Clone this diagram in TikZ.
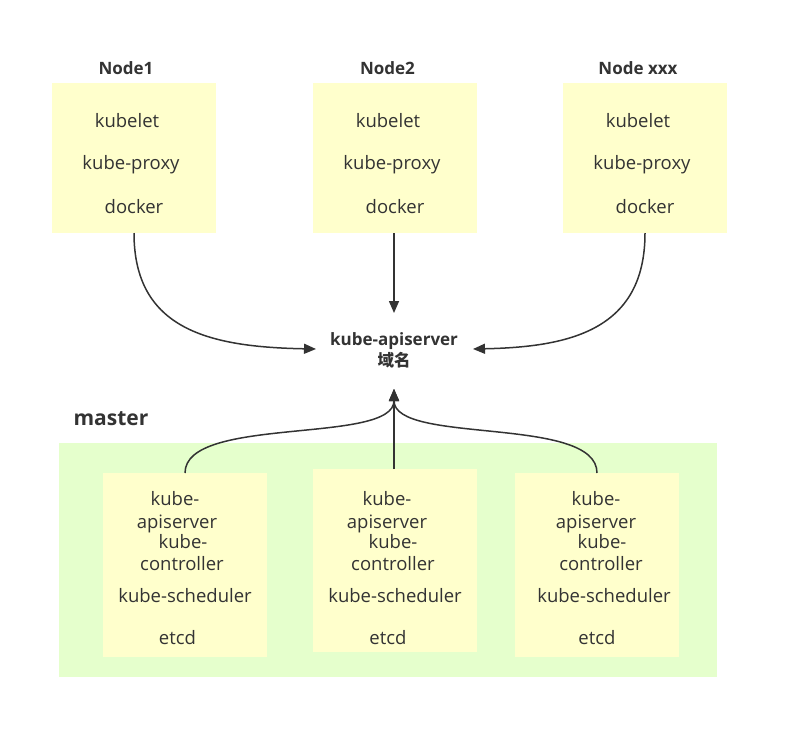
\documentclass[tikz,border=0pt]{standalone}
\usepackage{fontspec}
\setmainfont{Open Sans}
\newfontfamily\cjk{Noto Sans CJK SC}
\usetikzlibrary{arrows.meta}
\definecolor{txt}{HTML}{333333}
\definecolor{ybox}{HTML}{FFFFCC}
\definecolor{gbox}{HTML}{E5FFCC}
\tikzset{
  box/.style={fill=ybox, draw=none},
  lbl/.style={text=txt, font=\fontsize{18.5}{20}\selectfont, inner sep=0pt, anchor=base},
  ttl/.style={text=txt, font=\bfseries\fontsize{17}{19}\selectfont, inner sep=0pt, anchor=base},
  conn/.style={draw=txt, line width=1.5pt, -{Triangle[length=12pt,width=10pt]}}
}
\begin{document}
\begin{tikzpicture}[x=1pt,y=-1pt]
\useasboundingbox (0,0) rectangle (789,740);
% top nodes
\fill[box] (52,83) rectangle (216,233);
\fill[box] (313,83) rectangle (477,233);
\fill[box] (563,83) rectangle (727,233);
\node[ttl] (t1) at (126,74) {Node1};
\node[ttl] (t2) at (387.5,74) {Node2};
\node[ttl] (t3) at (638,74) {Node xxx};
\node[lbl] (a1) at (127,127) {kubelet};
\node[lbl] (a2) at (131,169) {kube-proxy};
\node[lbl] (a3) at (134,213) {docker};
\node[lbl] (b1) at (388,127) {kubelet};
\node[lbl] (b2) at (392,169) {kube-proxy};
\node[lbl] (b3) at (395,213) {docker};
\node[lbl] (c1) at (638,127) {kubelet};
\node[lbl] (c2) at (642,169) {kube-proxy};
\node[lbl] (c3) at (645,213) {docker};
% center
\node[ttl] (api) at (394,345) {kube-apiserver};
\node[ttl, font=\cjk\bfseries\fontsize{16.5}{18}\selectfont] (dom) at (394,366) {域名};
% master
\node[ttl, font=\bfseries\fontsize{21}{24}\selectfont] (mst) at (111,425) {master};
\fill[gbox] (59,443) rectangle (717,677);
\fill[box] (103,473) rectangle (267,657);
\fill[box] (313,469) rectangle (477,652);
\fill[box] (515,473) rectangle (679,657);
\foreach \n/\xa/\xb/\xc/\xd/\xe/\xf in {m1/175/177/183/182/185/177.5, m2/387/387/393/393/395/388, m3/596/596/602/601/604/597}{
  \node[lbl] (\n a) at (\xa,505) {kube-};
  \node[lbl] (\n b) at (\xb,528) {apiserver};
  \node[lbl] (\n c) at (\xc,548) {kube-};
  \node[lbl] (\n d) at (\xd,570) {controller};
  \node[lbl] (\n e) at (\xe,602) {kube-scheduler};
  \node[lbl] (\n f) at (\xf,644) {etcd};
}
% coordinates
\coordinate (n1b) at (134,233);
\coordinate (n2b) at (394,233);
\coordinate (n3b) at (645,233);
\coordinate (inl) at (316,349);
\coordinate (int) at (394,313);
\coordinate (inr) at (473,349);
\coordinate (inb) at (394,389);
\coordinate (m1t) at (185,473);
\coordinate (m2t) at (394,469);
\coordinate (m3t) at (597,473);
% connectors
\draw[conn] (n1b) .. controls (134,330) and (210,347) .. (inl);
\draw[conn] (n2b) -- (int);
\draw[conn] (n3b) .. controls (645,330) and (570,347) .. (inr);
\draw[conn] (m1t) .. controls (185,415) and (394,445) .. (inb);
\draw[conn] (m2t) -- (inb);
\draw[conn] (m3t) .. controls (597,415) and (394,445) .. (inb);
\end{tikzpicture}
\end{document}
